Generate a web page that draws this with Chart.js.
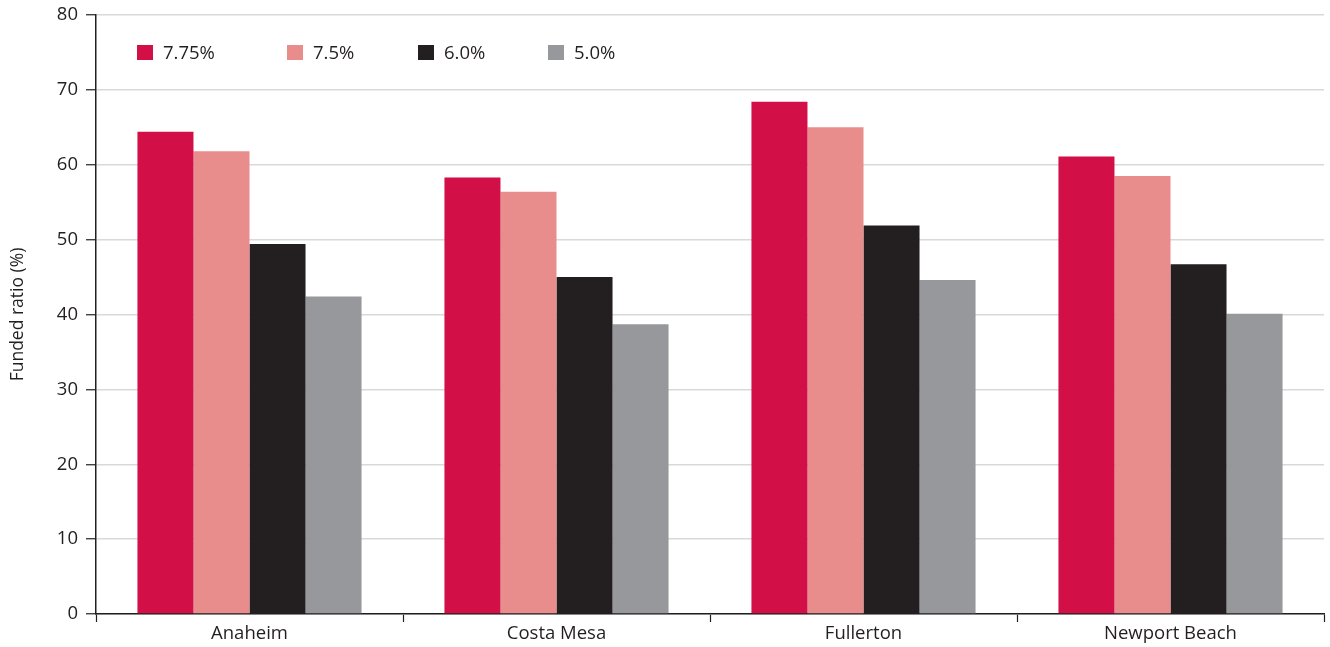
<!DOCTYPE html>
<html>
<head>
<meta charset="utf-8">
<title>Funded ratio by discount rate</title>
<script src="https://cdn.jsdelivr.net/npm/chart.js@4.4.1/dist/chart.umd.min.js"></script>
<style>
  html, body { margin: 0; padding: 0; background: #ffffff; }
  #wrap { width: 1330px; height: 647px; position: relative; }
</style>
</head>
<body>
<div id="wrap"><canvas id="chart" width="1330" height="647"></canvas></div>
<script>
// Cities and funded ratios (%) under each assumed discount rate
const cities = ['Anaheim', 'Costa Mesa', 'Fullerton', 'Newport Beach'];
const rateLabels = ['7.75%', '7.5%', '6.0%', '5.0%'];
const rate775 = [64.4, 58.3, 68.4, 61.1];
const rate75  = [61.8, 56.4, 65.0, 58.5];
const rate60  = [49.4, 45.0, 51.9, 46.7];
const rate50  = [42.4, 38.7, 44.6, 40.1];
const yTicks = [0, 10, 20, 30, 40, 50, 60, 70, 80];

const seriesValues = [rate775, rate75, rate60, rate50];
const seriesColors = ['#d20f46', '#e88d8b', '#231f20', '#97989b'];

const FONT = '"Open Sans", "Liberation Sans", sans-serif';
const INK = '#231f20';

// Legend drawn inside the plot area, in a single row near the top
const insideLegend = {
  id: 'insideLegend',
  afterDatasetsDraw(chart, args, opts) {
    const ctx = chart.ctx;
    const area = chart.chartArea;
    ctx.save();
    ctx.font = opts.fontSize + 'px ' + FONT;
    ctx.textBaseline = 'middle';
    ctx.textAlign = 'left';
    chart.data.datasets.forEach((ds, i) => {
      const x = area.left + opts.offsets[i];
      const y = area.top + opts.top;
      ctx.fillStyle = ds.backgroundColor;
      ctx.fillRect(x, y, opts.box, opts.box - 1);
      ctx.fillStyle = INK;
      ctx.fillText(ds.label, x + opts.textGap, y + opts.box / 2 + 1);
    });
    ctx.restore();
  }
};

new Chart(document.getElementById('chart'), {
  type: 'bar',
  data: {
    labels: cities,
    datasets: rateLabels.map((lab, i) => ({
      label: lab,
      data: seriesValues[i],
      backgroundColor: seriesColors[i],
      borderWidth: 0,
      barPercentage: 1.0,
      categoryPercentage: 0.73
    }))
  },
  options: {
    responsive: false,
    animation: false,
    devicePixelRatio: 1,
    layout: { padding: { top: 15, right: 6, bottom: 0, left: 0 } },
    plugins: {
      legend: { display: false },
      tooltip: { enabled: false },
      insideLegend: { offsets: [41, 191, 322, 452], top: 30, box: 16, textGap: 26, fontSize: 18.5 }
    },
    scales: {
      x: {
        grid: {
          offset: true,
          drawOnChartArea: false,
          drawTicks: true,
          tickLength: 8,
          tickColor: INK,
          tickWidth: 1.2
        },
        border: { display: true, color: INK, width: 1.5 },
        ticks: { color: INK, font: { family: FONT, size: 18.5 }, padding: 1 },
        afterFit(scale) { scale.height = 33; }
      },
      y: {
        min: 0,
        max: 80,
        afterBuildTicks(scale) { scale.ticks = yTicks.map(v => ({ value: v })); },
        grid: {
          color: '#d9d9d9',
          lineWidth: 1.5,
          drawTicks: true,
          tickLength: 10,
          tickColor: INK,
          tickWidth: 1.2
        },
        border: { display: true, color: INK, width: 1.5 },
        ticks: { color: INK, font: { family: FONT, size: 18.5, lineHeight: 0.9 }, padding: 8 },
        title: {
          display: true,
          text: 'Funded ratio (%)',
          color: INK,
          font: { family: FONT, size: 17.5 },
          padding: { top: 8, bottom: 0 }
        },
        afterFit(scale) {
          scale.width = 96;
          scale.paddingTop = 0;
          scale.paddingBottom = 0;
        }
      }
    }
  },
  plugins: [insideLegend]
});
</script>
</body>
</html>
